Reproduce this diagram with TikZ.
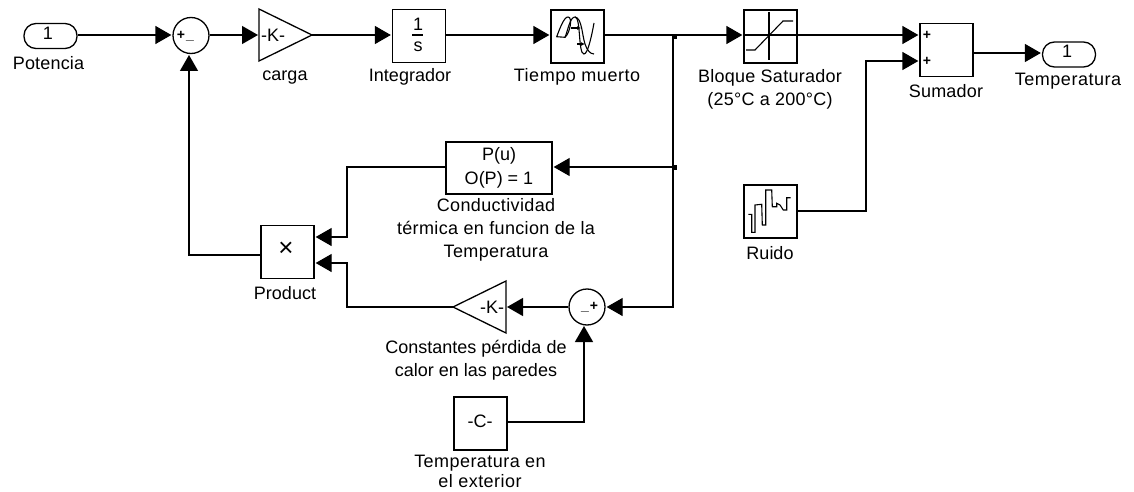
\documentclass[tikz,border=0pt]{standalone}
\usepackage{fontspec}
\setmainfont{Liberation Sans}
\usetikzlibrary{arrows.meta}
\tikzset{
  x=1pt,y=-1pt,
  blk/.style={draw,line width=1.3pt,minimum width=53pt,minimum height=53pt,inner sep=0pt,font=\fontsize{18}{20}\selectfont},
  port/.style={draw,line width=1.3pt,rounded corners=12pt,minimum width=53pt,minimum height=25pt,inner sep=0pt,font=\fontsize{18}{20}\selectfont},
  sumc/.style={draw,circle,line width=1.3pt,minimum size=36pt,inner sep=0pt},
  gainc/.style={draw,line width=1.3pt},
  txt/.style={inner sep=0pt,font=\fontsize{18}{20}\selectfont},
  lab/.style={align=center,inner sep=0pt,font=\fontsize{18}{23}\selectfont},
  tracked/.style={align=center,inner sep=0pt,font=\fontsize{18}{23}\selectfont\addfontfeature{LetterSpace=#1}},
  sgn/.style={inner sep=0pt,font=\fontsize{14}{14}\selectfont\bfseries},
  wire/.style={line width=1.3pt,-{Triangle[length=16pt,width=18pt]},shorten >=1pt},
  plain/.style={line width=1.3pt},
  icon/.style={line width=1.1pt},
}
\begin{document}
\begin{tikzpicture}
\useasboundingbox (0,0) rectangle (1134,492);
% blocks
\node[port] (in1) at (50.5,36) {};
\node[txt] (in1t) at (48,33) {1};
\node[tracked=1] (lin1) at (48.5,63) {Potencia};
\node[sumc] (s1) at (191,35.5) {};
\node[sgn] (s1p) at (181,35) {+};
\node[sgn] (s1m) at (190,40) {\_};
\draw[gainc] (259,9) coordinate (g1a) -- (312,35) coordinate (g1o) -- (259,61) coordinate (g1b) -- cycle;
\coordinate (g1i) at (259,35);
\node[txt] (g1t) at (273,35) {-K-};
\node[lab] (lg1) at (285,78) {carga};
\node[blk] (int) at (419,36) {};
\node[txt] (int1) at (418,24) {1};
\node[txt] (ints) at (418,47) {s};
\draw[icon] (412,35) -- (423,35);
\node[lab] (lint) at (410,77) {Integrador};
\node[blk] (td) at (577.5,36.5) {};
\draw[icon] (556.7,36.7) .. controls (560,28) and (564,17) .. (568,17) .. controls (573,17) and (570,33) .. (565,37.3) -- cycle;
\draw[icon] (565,37.3) .. controls (568,30) and (570,17) .. (575,17) .. controls (581,17) and (578,54) .. (584,54) .. controls (588,54) and (592,34) .. (594,23);
\draw[icon] (575,17) .. controls (582,18) and (582,35) .. (585,44) .. controls (587,50) and (590,54) .. (594,54);
\draw[icon,-{Latex[length=4pt,width=4pt]}] (571,28) -- (581,28);
\draw[icon,-{Latex[length=4pt,width=4pt]}] (577,44) -- (585,44);
\node[tracked=3] (ltd) at (577,77) {Tiempo muerto};
\node[blk] (sat) at (770.5,36.5) {};
\draw[icon] (744,35) -- (797,35) (769,12) -- (769,60);
\draw[icon] (746,50) -- (755,50) -- (783,21) -- (793,21);
\node[tracked=1.5] (lsat) at (770,89) {Bloque Saturador\\(25°C a 200°C)};
\node[blk] (sum) at (946.5,50) {};
\node[sgn] (sump) at (927,35) {+};
\node[sgn] (sumq) at (927,61) {+};
\node[tracked=1] (lsum) at (946,91) {Sumador};
\node[port] (out) at (1069,54.5) {};
\node[txt] (outt) at (1067,51) {1};
\node[tracked=3] (lout) at (1068,81) {Temperatura};
\node[blk] (rnd) at (770.5,211.5) {};
\draw[icon] (748.3,214.3) -- (751.7,214.3) -- (751.7,232.3) -- (755,232.3) -- (755,205) -- (761.7,204.3) -- (762.3,225) -- (765.7,225) -- (765.7,190) -- (771.7,190) -- (772.3,206.7) -- (776.7,206.7) -- (776.7,203.3) -- (780,205) -- (783.3,210) -- (786.7,210) -- (786.7,197.7) -- (790.7,197.7);
\node[lab] (lrnd) at (770,253) {Ruido};
\node[draw,line width=1.3pt,minimum width=106pt,minimum height=52pt,inner sep=0pt,align=center,font=\fontsize{18}{24}\selectfont] (poly) at (499,168) {P(u)\\O(P) = 1};
\node[tracked=2] (lpoly) at (496,230) {Conductividad\\térmica en funcion de la\\Temperatura};
\node[blk] (prod) at (287.5,252) {};
\node[inner sep=0pt,font=\fontsize{26}{26}\selectfont] (ptimes) at (286,249) {×};
\node[lab] (lprod) at (285,293) {Product};
\draw[gainc] (506,281) coordinate (g2a) -- (453,307) coordinate (g2o) -- (506,333) coordinate (g2b) -- cycle;
\coordinate (g2i) at (506,307);
\node[txt] (g2t) at (492,307) {-K-};
\node[lab] (lg2) at (476,360) {Constantes pérdida de\\calor en las paredes};
\node[sumc] (s2) at (587,307) {};
\node[sgn] (s2p) at (594,306) {+};
\node[sgn] (s2m) at (585,311) {\_};
\node[blk] (cst) at (480.5,423.5) {};
\node[txt] (ct) at (480,421) {-C-};
\node[align=center,inner sep=0pt,font=\fontsize{18}{20}\selectfont\addfontfeature{LetterSpace=2.5},anchor=south,text depth=0pt] (lcst) at (480,488) {Temperatura en\\el exterior};
% junctions
\coordinate (j1) at (673,35);
\coordinate (j2) at (673,167);
\fill (671.5,35) rectangle (676.5,39);
\fill (672,165) rectangle (677,170);
% wires
\draw[wire] (in1.east |- 0,35) -- (s1.west |- 0,35);
\draw[wire] (s1.east |- 0,35) -- (g1i);
\draw[wire] (g1o) -- (int.west |- 0,35);
\draw[wire] (int.east |- 0,35) -- (td.west |- 0,35);
\draw[wire] (td.east |- 0,35) -- (sat.west |- 0,35);
\draw[wire] (sat.east |- 0,35) -- (sum.west |- 0,35);
\draw[wire] (sum.east |- 0,53) -- (out.west |- 0,53);
\draw[wire] (rnd.east |- 0,211) -- (866,211) -- (866,61) -- (sum.west |- 0,61);
\draw[plain] (j1) -- (j2);
\draw[wire] (j2) -- (poly.east |- j2);
\draw[wire] (j2) -- (673,307) -- (s2.east);
\draw[wire] (s2.west) -- (g2i);
\draw[wire] (g2o) -- (347,307) -- (347,263) -- (prod.east |- 0,263);
\draw[wire] (poly.west |- 0,167) -- (347,167) -- (347,237) -- (prod.east |- 0,237);
\draw[wire] (prod.west |- 0,255) -- (189,255) -- (189,54);
\draw[wire] (cst.east |- 0,422) -- (584,422) -- (584,325);
\end{tikzpicture}
\end{document}
